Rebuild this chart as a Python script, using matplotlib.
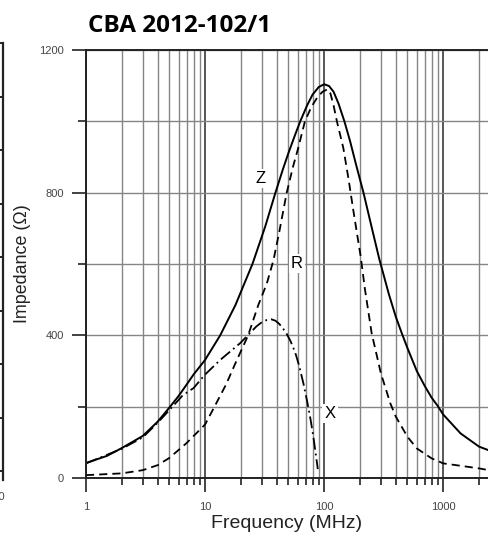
import numpy as np
import matplotlib.pyplot as plt
from matplotlib.ticker import FixedLocator, NullFormatter

plt.rcParams['font.family'] = ['Liberation Sans', 'DejaVu Sans']

freq_z = [1, 1.5, 2, 3, 4, 5, 6, 7, 8, 10, 13.4, 18, 25, 32, 39, 45, 50, 56,
          63, 72, 80, 90, 100, 110, 120, 132, 148, 165, 185, 214, 250, 290,
          350, 400, 450, 500, 600, 700, 800, 900, 1000, 1400, 2000, 2400, 3000]
imp_z = [42, 62, 84, 118, 158, 197, 230, 262, 290, 331, 400, 485, 600, 705,
         800, 865, 910, 955, 1000, 1045, 1075, 1096, 1104, 1099, 1083, 1050,
         1000, 945, 880, 800, 705, 615, 515, 452, 405, 365, 300, 258, 225,
         202, 178, 125, 88, 78, 70]

freq_r = [1, 2, 3, 4, 5, 7, 10, 12, 15, 18, 23, 28, 33, 37.5, 42, 48.5, 55,
          60, 69, 78, 88, 97, 107, 113, 120, 128, 145, 160, 175, 190, 203, 220,
          251, 300, 360, 400, 500, 600, 800, 1000, 2000, 2400, 3000]
imp_r = [8, 13, 22, 36, 56, 98, 150, 200, 262, 322, 400, 485, 545, 610, 690,
         800, 875, 920, 1000, 1040, 1068, 1083, 1090, 1078, 1045, 1000, 925,
         840, 755, 680, 620, 530, 405, 293, 209, 172, 116, 83, 55, 41, 27, 22,
         18]

freq_x = [1, 2, 3, 4, 5, 6.5, 8, 10, 13.4, 19.7, 27, 30, 33, 36, 39, 42, 45,
          48.5, 52, 55, 58, 62, 67, 72, 77, 81, 85, 88.5]
imp_x = [41, 82, 114, 155, 190, 232, 252, 290, 331, 378, 425, 437, 443, 445,
         441, 432, 420, 404, 385, 366, 345, 312, 265, 215, 163, 118, 68, 25]

x_ticks = [1, 10, 100, 1000, 3000]
x_ticklabels = ['1', '10', '100', '1000', '3000']
y_ticks = [0, 400, 800, 1200]

fig = plt.figure(figsize=(4.88, 5.34), dpi=100)

# Rest vom Nachbardiagramm links (abgeschnitten)
ax0 = fig.add_axes([-0.5, 1 - 480 / 534, 0.5 + 3 / 488, 437 / 534])
ax0.set_ylim(0, 437)
ax0.set_xticks([])
for s in ['left', 'top', 'bottom']:
    ax0.spines[s].set_visible(False)
ax0.spines['right'].set_linewidth(1.6)
ax0.spines['right'].set_color('#222222')
ax0.yaxis.tick_right()
ax0.set_yticks([437 - 53.5 * k for k in range(9)])
ax0.tick_params(axis='y', direction='in', length=3, width=1.2, labelright=False)
ax0.patch.set_alpha(0)
fig.text(5 / 488, 1 - 497 / 534, '3000', ha='right', va='center',
         fontsize=8, color='#444444')

# Hauptdiagramm
ax = fig.add_axes([86 / 488, 1 - 478 / 534, 414 / 488, 428 / 534])
ax.set_xscale('log')
ax.set_xlim(1, 3000)
ax.set_ylim(0, 1200)

ax.plot(freq_z, imp_z, color='black', lw=1.4, solid_joinstyle='round')
ax.plot(freq_r, imp_r, color='black', lw=1.3, dashes=(4.5, 2.8))
ax.plot(freq_x, imp_x, color='black', lw=1.3, dashes=(6.6, 2.2, 1, 2.2))

box = dict(facecolor='white', edgecolor='none', pad=1.5)
ax.text(29, 840, 'Z', fontsize=12, ha='center', va='center', bbox=box)
ax.text(59, 602, 'R', fontsize=12, ha='center', va='center', bbox=box)
ax.text(112, 182, 'X', fontsize=12, ha='center', va='center', bbox=box)

# Achsen und Gitter
ax.xaxis.set_major_locator(FixedLocator(x_ticks))
ax.set_xticklabels(x_ticklabels)
minor = [m * 10 ** d for d in range(4) for m in range(2, 10) if m * 10 ** d < 3000]
ax.xaxis.set_minor_locator(FixedLocator(minor))
ax.xaxis.set_minor_formatter(NullFormatter())
ax.set_yticks(y_ticks)
ax.yaxis.set_minor_locator(FixedLocator([200, 600, 1000]))

ax.grid(True, which='major', axis='x', color='#3a3a3a', lw=1.2)
ax.grid(True, which='minor', axis='x', color='#858585', lw=1.0)
ax.grid(True, which='both', axis='y', color='#858585', lw=1.0)
ax.set_axisbelow(True)

ax.tick_params(axis='both', which='major', direction='out', length=10, width=1.2,
               color='#222222', labelsize=8, labelcolor='#444444')
ax.tick_params(axis='y', which='minor', direction='out', length=6, width=1.2,
               color='#222222')
ax.tick_params(axis='x', which='minor', direction='out', length=5, width=1.2,
               color='#222222')
ax.tick_params(axis='y', which='major', pad=6)
ax.tick_params(axis='x', which='major', pad=7)
for s in ['left', 'top', 'bottom']:
    ax.spines[s].set_linewidth(1.4)
    ax.spines[s].set_color('#222222')
ax.spines['right'].set_visible(False)

ax.set_xlabel('Frequency (MHz)', fontsize=14, color='#222222')
ax.xaxis.set_label_coords((287 - 86) / 414, -(524 - 478) / 428)
ax.set_ylabel('Impedance (\u03a9)', fontsize=12.9, color='#222222')
ax.yaxis.set_label_coords(-(86 - 22) / 414, 0.5)
ax.xaxis.label.set_va('center')
ax.yaxis.label.set_va('center')

fig.text(88 / 488, 1 - 26 / 534, 'CBA 2012-102/1', fontsize=17.5,
         fontweight='bold', family=['Open Sans', 'DejaVu Sans'],
         ha='left', va='center', color='black')

plt.savefig('out.png', dpi=100)
